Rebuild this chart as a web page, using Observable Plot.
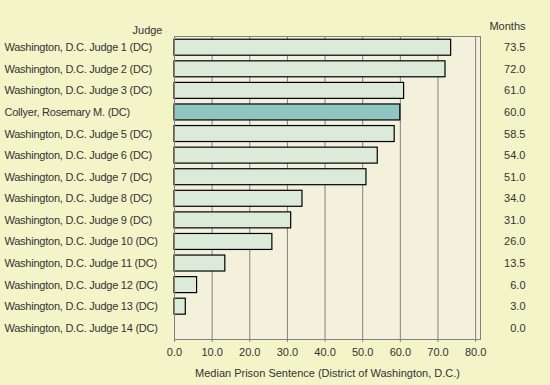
<!DOCTYPE html>
<html><head><meta charset="utf-8">
<script src="https://cdn.jsdelivr.net/npm/d3@7"></script>
<script src="https://cdn.jsdelivr.net/npm/@observablehq/plot@0.6"></script>
<style>
body{margin:0;background:#f4f4c9;overflow:hidden}
svg g[aria-label="y-axis tick label"] text{letter-spacing:-0.24px}
</style>
</head><body><div id="chart"></div>
<script>
const judges = [
  "Washington, D.C. Judge 1 (DC)",
  "Washington, D.C. Judge 2 (DC)",
  "Washington, D.C. Judge 3 (DC)",
  "Collyer, Rosemary M. (DC)",
  "Washington, D.C. Judge 5 (DC)",
  "Washington, D.C. Judge 6 (DC)",
  "Washington, D.C. Judge 7 (DC)",
  "Washington, D.C. Judge 8 (DC)",
  "Washington, D.C. Judge 9 (DC)",
  "Washington, D.C. Judge 10 (DC)",
  "Washington, D.C. Judge 11 (DC)",
  "Washington, D.C. Judge 12 (DC)",
  "Washington, D.C. Judge 13 (DC)",
  "Washington, D.C. Judge 14 (DC)"
];
const months = [73.5, 72.0, 61.0, 60.0, 58.5, 54.0, 51.0, 34.0, 31.0, 26.0, 13.5, 6.0, 3.0, 0.0];
const highlightJudge = "Collyer, Rosemary M. (DC)";
const xTicks = [0, 10, 20, 30, 40, 50, 60, 70, 80];
const xLabel = "Median Prison Sentence (District of Washington, D.C.)";
const yHeader = "Judge";
const valueHeader = "Months";

const data = judges.map((j, i) => ({judge: j, months: months[i]}));
const fmt = d => d.toFixed(1);

const chart = Plot.plot({
  width: 550,
  height: 385,
  marginTop: 36,
  marginBottom: 46,
  marginLeft: 174,
  marginRight: 70,
  style: {background: "#f4f4c9", fontFamily: "'Liberation Sans', Arial, sans-serif", fontSize: "11px", color: "#333"},
  x: {domain: [0, 81.3], label: null},
  y: {domain: judges, paddingInner: 0.26, paddingOuter: 0.15, round: false, label: null},
  marks: [
    Plot.frame({fill: "#f3f1dc", stroke: null}),
    Plot.gridX(xTicks.slice(1), {stroke: "#808080", strokeOpacity: 1}),
    Plot.barX(data.filter(d => d.months > 0), {
      x: "months", y: "judge",
      fill: d => d.judge === highlightJudge ? "#8fc6c2" : "#dcebd9",
      stroke: "#000", strokeWidth: 1.2
    }),
    Plot.frame({stroke: "#808080"}),
    Plot.axisX({ticks: xTicks, tickFormat: fmt, tickSize: 3, stroke: "#808080", label: null}),
    Plot.axisY({tickSize: 0, textAnchor: "start", dx: -161, label: null}),
    Plot.text(data, {y: "judge", text: d => fmt(d.months), frameAnchor: "right", textAnchor: "end", dx: 45}),
    Plot.text([yHeader], {frameAnchor: "top-left", lineAnchor: "middle", textAnchor: "end", dx: -12, dy: -6}),
    Plot.text([valueHeader], {frameAnchor: "top-right", lineAnchor: "middle", textAnchor: "end", dx: 45, dy: -10}),
    Plot.text([xLabel], {frameAnchor: "bottom", lineAnchor: "middle", dy: 34})
  ]
});
document.getElementById("chart").appendChild(chart);
</script>
</body></html>
